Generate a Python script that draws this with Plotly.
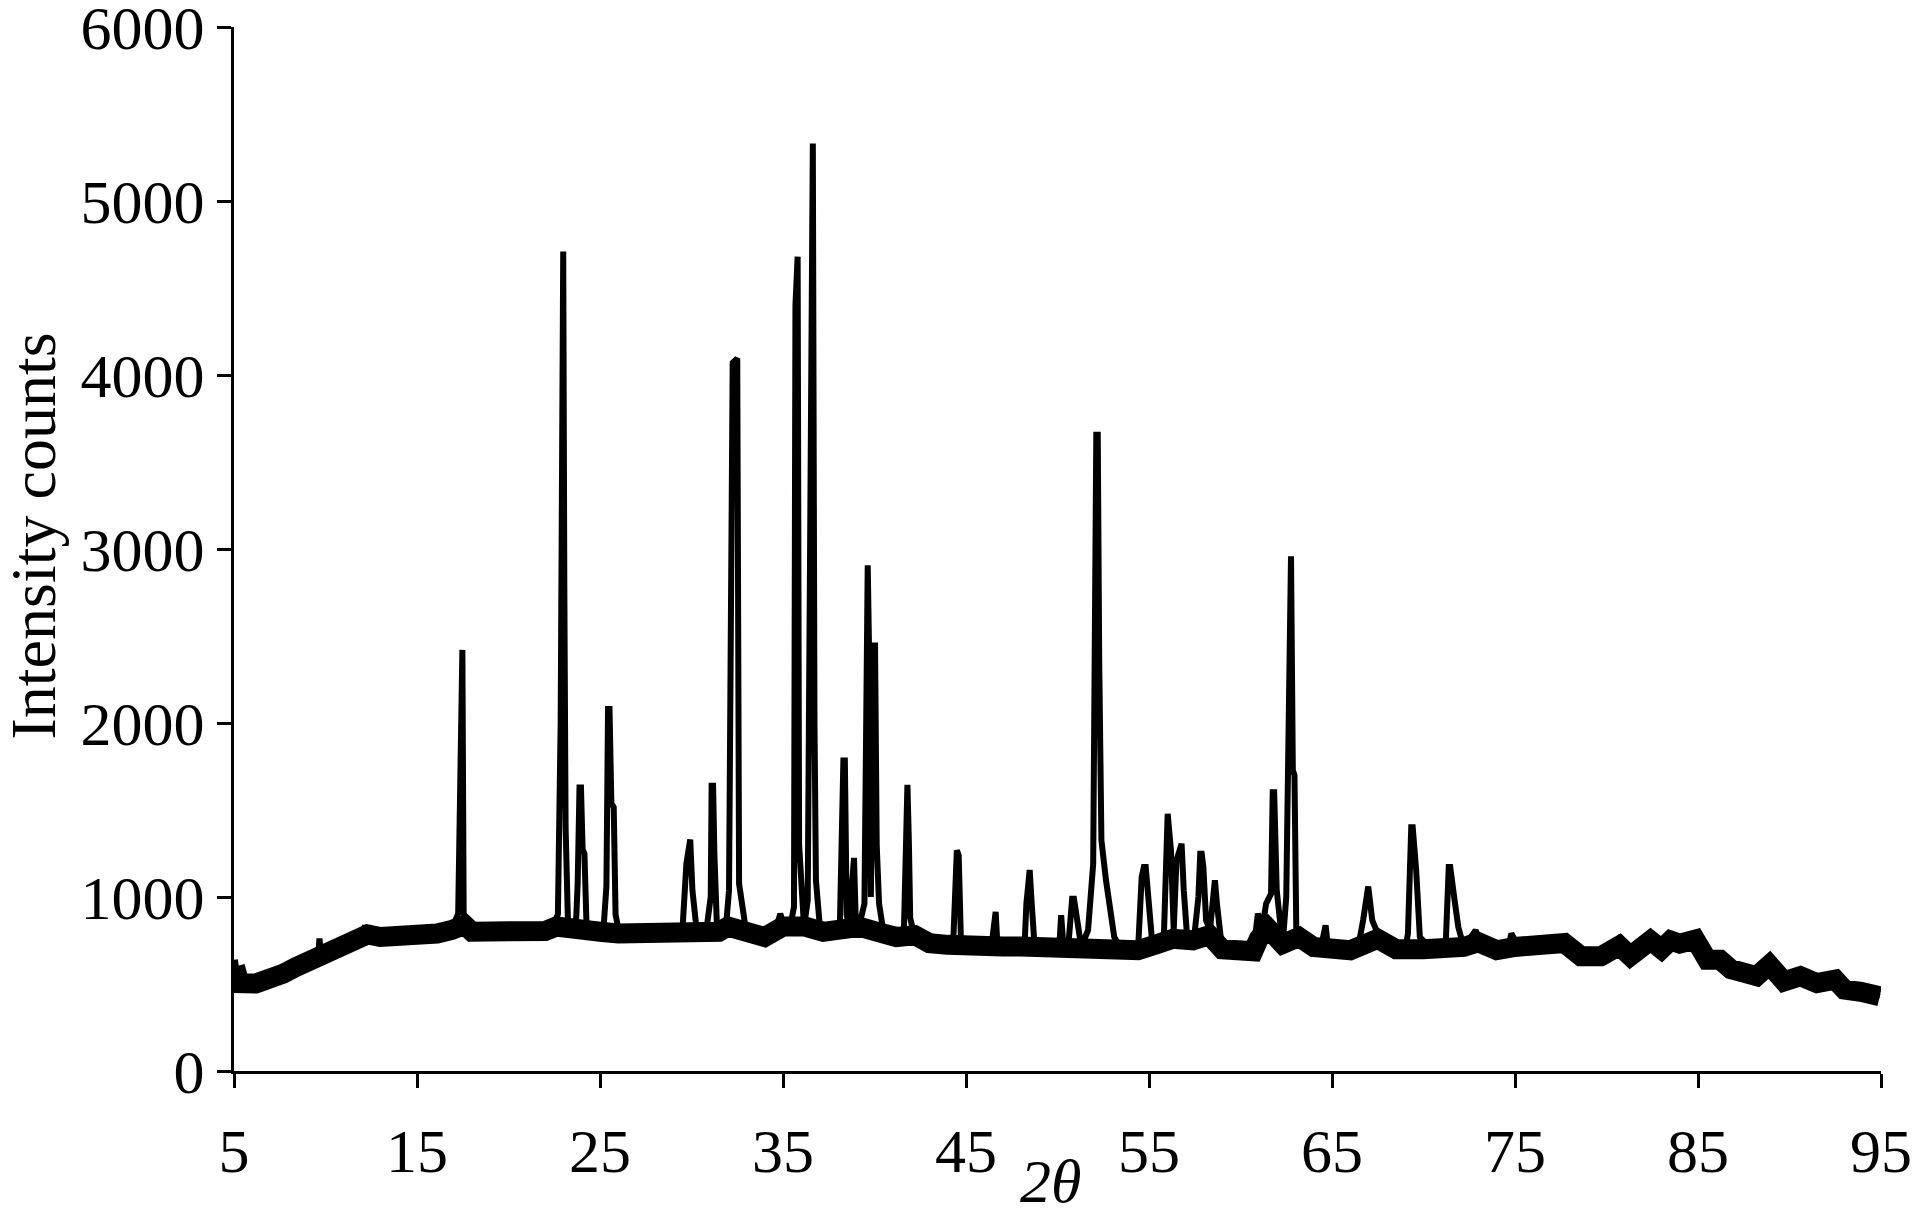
import plotly.graph_objects as go

# XRD pattern (2-theta in degrees, intensity in counts)
two_theta = [5.05, 5.2, 5.6, 6.2, 7.0, 7.7, 8.4, 9.2, 9.6, 9.67, 9.75, 10.3, 11.2, 12.0, 12.15, 12.25,
             12.8, 13.9, 15.0, 16.1, 16.9, 17.25, 17.33, 17.4, 17.48, 17.55, 17.7, 18.0, 19.0, 19.5,
             20.0, 21.0, 22.0, 22.4, 22.7, 22.85, 22.92, 22.99, 23.05, 23.12, 23.25, 23.45, 23.7, 23.78,
             23.88, 23.96, 24.05, 24.15, 24.28, 24.6, 25.2, 25.35, 25.44, 25.52, 25.62, 25.75, 25.85,
             26.05, 27.0, 28.0, 29.0, 29.5, 29.72, 29.85, 29.93, 30.05, 30.3, 30.8, 31.05, 31.1, 31.18,
             31.25, 31.4, 31.9, 32.05, 32.25, 32.33, 32.42, 32.5, 32.6, 32.75, 33.0, 34.0, 34.5, 34.85,
             35.1, 35.45, 35.6, 35.68, 35.72, 35.8, 35.88, 36.05, 36.15, 36.35, 36.55, 36.63, 36.72,
             36.8, 37.0, 37.4, 38.1, 38.22, 38.3, 38.38, 38.48, 38.6, 38.8, 38.88, 38.98, 39.15, 39.45,
             39.55, 39.63, 39.72, 39.8, 39.95, 40.03, 40.12, 40.25, 40.5, 41.0, 41.6, 41.72, 41.8, 41.88,
             41.95, 42.15, 43.0, 43.5, 44.3, 44.42, 44.5, 44.6, 44.72, 45.5, 46.4, 46.62, 46.7, 47.5,
             48.2, 48.3, 48.4, 48.48, 48.58, 48.75, 49.5, 50.1, 50.2, 50.3, 50.6, 50.8, 50.9, 51.04,
             51.3, 51.67, 51.95, 52.12, 52.2, 52.28, 52.4, 52.65, 52.84, 53.1, 53.47, 54.4, 54.6, 54.72,
             54.82, 55.0, 55.18, 55.8, 55.95, 56.02, 56.2, 56.35, 56.5, 56.7, 56.78, 56.9, 57.07, 57.45,
             57.7, 57.8, 57.88, 57.97, 58.12, 58.33, 58.52, 58.6, 58.73, 58.96, 59.5, 60.7, 60.95, 61.2,
             61.4, 61.67, 61.76, 61.84, 61.98, 62.3, 62.5, 62.68, 62.76, 62.86, 62.95, 63.05, 63.3, 63.5,
             64.4, 64.65, 64.75, 65.5, 66.4, 66.7, 66.9, 66.98, 67.2, 67.5, 67.8, 69.0, 69.15, 69.33,
             69.41, 69.6, 69.8, 70.5, 71.2, 71.38, 71.46, 71.7, 71.9, 72.2, 72.85, 73.2, 74.6, 74.8,
             75.2, 76.6, 77.66, 78.6, 79.7, 80.66, 81.3, 82.4, 82.94, 83.5, 84.03, 84.85, 85.5, 86.2,
             86.8, 87.5, 88.2, 88.86, 89.2, 89.7, 90.6, 91.5, 92.5, 92.96, 93.87, 94.93]
counts = [640, 520, 505, 503, 522, 560, 598, 637, 660, 761, 670, 694, 723, 751, 837, 790,
          770, 770, 774, 790, 818, 904, 1700, 2420, 2420, 904, 866, 800, 800, 820,
          795, 800, 805, 828, 900, 2000, 4710, 4710, 2790, 1400, 850, 809, 880, 1077,
          1630, 1630, 1274, 1249, 780, 790, 830, 1060, 2080, 2080, 1540, 1516, 900,
          790, 790, 785, 790, 800, 1191, 1330, 1330, 1038, 790, 800, 1000, 1640, 1640,
          1249, 800, 850, 1038, 4070, 4080, 4095, 4095, 1076, 950, 790, 770, 775, 904,
          820, 860, 943, 4400, 4680, 4680, 1300, 900, 828, 981, 5330, 5330, 2000,
          1096, 847, 790, 800, 1637, 1785, 1785, 900, 828, 1225, 1225, 850, 828, 962,
          2906, 2906, 2300, 1000, 2445, 2445, 1300, 962, 790, 770, 775, 1644, 1644, 1310,
          880, 790, 732, 700, 732, 1268, 1268, 1239, 760, 723, 723, 914, 760, 713,
          720, 962, 1155, 1155, 981, 713, 713, 720, 895, 750, 732, 990, 990, 904,
          713, 809, 1191, 3657, 3657, 2354, 1325, 1096, 943, 770, 704, 694, 1115, 1172,
          1172, 904, 732, 732, 1478, 1478, 1268, 809, 1210, 1306, 1306, 1038, 790, 751,
          1000, 1249, 1249, 1172, 866, 809, 1096, 1096, 943, 732, 685, 685, 904, 828,
          962, 1019, 1602, 1602, 1038, 723, 1000, 2958, 2958, 1728, 1700, 790, 800, 713,
          713, 837, 740, 694, 694, 866, 1060, 1060, 866, 790, 713, 694, 790, 1401,
          1401, 1153, 770, 694, 694, 1172, 1172, 981, 828, 713, 809, 694, 694, 790,
          713, 713, 740, 656, 656, 760, 656, 760, 694, 760, 732, 770, 637, 650,
          579, 560, 541, 640, 580, 512, 551, 503, 530, 465, 455, 426]

# noisy background band (centre of the band)
bg_theta = [5.05, 5.3, 6.2, 7.0, 7.7, 8.4, 9.2, 10.3, 11.2, 12.0, 12.3, 13.0, 13.9, 15.0, 16.1, 16.9,
            17.3, 17.6, 18.0, 19.0, 20.0, 21.0, 22.0, 22.6, 23.4, 24.5, 25.0, 26.0, 27.0, 28.0, 29.0,
            30.5, 31.5, 32.0, 33.0, 34.0, 35.0, 36.2, 37.2, 38.0, 39.2, 40.5, 41.2, 42.2, 43.0, 44.0,
            45.0, 46.0, 47.0, 48.0, 49.0, 50.0, 51.5, 53.4, 54.4, 55.5, 56.3, 57.4, 58.3, 59.0, 60.0,
            60.7, 61.0, 61.5, 62.3, 63.2, 64.0, 65.0, 66.0, 67.5, 68.5, 70.0, 71.0, 72.2, 73.0, 74.0,
            75.0, 76.6, 77.7, 78.6, 79.7, 80.7, 81.3, 82.4, 83.0, 83.5, 84.0, 84.85, 85.5, 86.2, 86.8,
            87.5, 88.2, 88.9, 89.7, 90.6, 91.5, 92.5, 93.0, 93.9, 94.93]
bg_counts = [600, 505, 503, 522, 560, 598, 637, 694, 723, 751, 785, 770, 772, 775, 790, 810,
             840, 840, 800, 800, 798, 800, 805, 830, 812, 785, 800, 790, 790, 785, 790,
             795, 800, 830, 790, 770, 830, 830, 800, 800, 828, 790, 770, 780, 735, 725,
             730, 723, 715, 715, 713, 715, 715, 704, 694, 732, 760, 751, 780, 700, 685,
             688, 760, 820, 730, 770, 713, 700, 694, 760, 700, 700, 700, 713, 740, 694,
             713, 713, 735, 660, 660, 720, 660, 750, 700, 750, 732, 755, 640, 640, 585,
             565, 545, 610, 515, 545, 505, 525, 468, 455, 430]

x_ticks = [5, 15, 25, 35, 45, 55, 65, 75, 85, 95]
y_ticks = [0, 1000, 2000, 3000, 4000, 5000, 6000]

font = dict(family='Liberation Serif, Times New Roman, serif', size=62, color='black')

fig = go.Figure()
fig.add_trace(go.Scatter(x=bg_theta, y=bg_counts, mode='lines',
                         line=dict(color='black', width=20), hoverinfo='skip'))
fig.add_trace(go.Scatter(x=two_theta, y=counts, mode='lines',
                         line=dict(color='black', width=6)))

axis = dict(showline=True, linecolor='black', linewidth=3, ticks='outside', ticklen=14,
            tickwidth=3, tickcolor='black', showgrid=False, zeroline=False, tickfont=font,
            automargin=False, ticklabeloverflow='allow')
fig.update_xaxes(range=[5, 95], tickvals=x_ticks, ticklabelstandoff=10, **axis)
fig.update_yaxes(range=[0, 6000], tickvals=y_ticks, ticklabelstandoff=0, **axis)

# axis titles placed as annotations so they sit where the original puts them
fig.add_annotation(text='<i>2θ</i>', xref='paper', yref='paper', x=0.5, y=0,
                   xanchor='center', yanchor='middle', xshift=-7, yshift=-110,
                   showarrow=False, font=font)
fig.add_annotation(text='Intensity counts', xref='paper', yref='paper', x=0, y=0.512,
                   xanchor='center', yanchor='middle', xshift=-201, textangle=-90,
                   showarrow=False, font=dict(font, size=64))

# the page body has an 8px margin, so the figure is a little smaller than the window
fig.update_layout(width=1910, height=1197, showlegend=False,
                  margin=dict(l=226, r=37, t=19, b=134),
                  plot_bgcolor='white', paper_bgcolor='white')

fig.write_html("out.html")
